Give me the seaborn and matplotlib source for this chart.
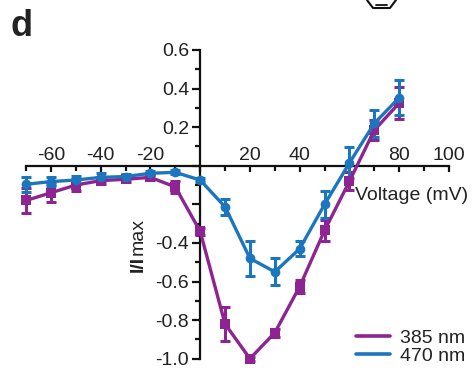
import numpy as np
import pandas as pd
import matplotlib
matplotlib.use("Agg")
import matplotlib.pyplot as plt
from matplotlib.lines import Line2D
from matplotlib.ticker import FixedLocator, MultipleLocator
import seaborn as sns

voltage = [-70, -60, -50, -40, -30, -20, -10, 0, 10, 20, 30, 40, 50, 60, 70, 80]
i385 = [-0.18, -0.14, -0.10, -0.077, -0.07, -0.06, -0.11, -0.34, -0.82, -1.0, -0.865, -0.626, -0.335, -0.08, 0.185, 0.325]
e385 = [0.065, 0.047, 0.03, 0.015, 0.012, 0.012, 0.03, 0.02, 0.088, 0.01, 0.02, 0.036, 0.055, 0.047, 0.05, 0.085]
i470 = [-0.096, -0.082, -0.074, -0.06, -0.056, -0.039, -0.034, -0.074, -0.213, -0.48, -0.55, -0.43, -0.20, 0.015, 0.22, 0.353]
e470 = [0.04, 0.024, 0.02, 0.02, 0.015, 0.01, 0.01, 0.01, 0.04, 0.09, 0.07, 0.04, 0.07, 0.08, 0.07, 0.09]
labels = ["385 nm", "470 nm"]
colors = ["#8D2492", "#1C76BD"]

sns.set_theme(style="ticks")
plt.rcParams["font.family"] = ["Liberation Sans", "DejaVu Sans"]
plt.rcParams["axes.unicode_minus"] = False

FS = 14

df = pd.DataFrame({
    "Voltage": voltage * 2,
    "I": i385 + i470,
    "err": e385 + e470,
    "Wavelength": [labels[0]] * len(voltage) + [labels[1]] * len(voltage),
})

fig = plt.figure(figsize=(4.72, 3.73), dpi=100)
ax = fig.add_axes([26 / 472, 1 - 358.7 / 373, (449 - 26) / 472, (358.7 - 50) / 373])

for lab, col, mk in zip(labels, colors, ["s", "o"]):
    sub = df[df["Wavelength"] == lab]
    eb = ax.errorbar(sub["Voltage"], sub["I"], yerr=sub["err"], fmt="none",
                     ecolor=col, elinewidth=2.2, capsize=3.5, capthick=2.2, zorder=2)
    for art in eb.get_children():
        art.set_clip_on(False)
    sns.lineplot(data=sub, x="Voltage", y="I", ax=ax, color=col, lw=2.4,
                 marker=mk, markersize=7, markeredgewidth=0, label=lab,
                 legend=False, zorder=3, clip_on=False)

ax.set_xlim(-70, 100)
ax.set_ylim(-1.0, 0.6)
ax.spines["left"].set_position(("data", 0))
ax.spines["bottom"].set_position(("data", 0))
ax.spines["right"].set_visible(False)
ax.spines["top"].set_visible(False)
for s in ("left", "bottom"):
    ax.spines[s].set_linewidth(1.6)
    ax.spines[s].set_color("#111111")

xt = [-60, -40, -20, 0, 20, 40, 60, 80, 100]
ax.xaxis.set_major_locator(FixedLocator(xt))
ax.set_xticklabels(["-60", "-40", "-20", "", "20", "40", "", "80", "100"])
ax.xaxis.set_minor_locator(FixedLocator([-70, -50, -30, -10, 10, 30, 50, 70, 90]))
yt = [-1.0, -0.8, -0.6, -0.4, -0.2, 0.0, 0.2, 0.4, 0.6]
ax.yaxis.set_major_locator(FixedLocator(yt))
ax.set_yticklabels(["-1.0", "-0.8", "-0.6", "-0.4", "", "", "0.2", "0.4", "0.6"])
ax.yaxis.set_minor_locator(MultipleLocator(0.1))

ax.tick_params(axis="both", which="both", direction="out", width=1.6, color="#111111",
               labelsize=FS, labelcolor="#222222")
ax.tick_params(axis="y", which="major", length=6, pad=2)
ax.tick_params(axis="y", which="minor", length=3.5)
ax.tick_params(axis="x", which="major", length=4, pad=-5.2)
ax.tick_params(axis="x", which="minor", length=3.5)
for t in ax.get_xticklabels():
    t.set_verticalalignment("bottom")
ax.set_xlabel("")
ax.set_ylabel("")
ax.set_facecolor("none")

fig.text(355 / 472, 1 - 195 / 373, "Voltage (mV)", fontsize=FS, color="#222222",
         ha="left", va="center")
fig.text(138 / 472, 1 - 236.5 / 373, "max", fontsize=FS, color="#222222",
         rotation=90, ha="center", va="center")
fig.text(138 / 472, 1 - 263.5 / 373, "I/I", fontsize=FS, fontweight="bold",
         color="#222222", rotation=90, ha="center", va="center")
fig.text(10 / 472, 1 - 26 / 373, "d", fontsize=26, fontweight="bold", color="#222222",
         ha="left", va="center")

handles = [Line2D([], [], color=c, lw=2.6) for c in colors]
fig.legend(handles, labels, loc="center left", bbox_to_anchor=(356 / 472, 1 - 347 / 373),
           frameon=False, fontsize=FS, handlelength=1.75, handletextpad=0.5,
           labelspacing=0.0, borderpad=0, borderaxespad=0, labelcolor="#222222")

# partial hexagon glyph cut at top edge
hx = [367, 373, 390, 396]
hy = [0, 8, 8, 0]
fig.add_artist(Line2D([x / 472 for x in hx], [1 - y / 373 for y in hy],
                      transform=fig.transFigure, color="#111111", lw=1.5))
fig.add_artist(Line2D([376 / 472, 387 / 472], [1 - 4.5 / 373, 1 - 4.5 / 373],
                      transform=fig.transFigure, color="#111111", lw=1.3))

fig.savefig("out.png", dpi=100)
